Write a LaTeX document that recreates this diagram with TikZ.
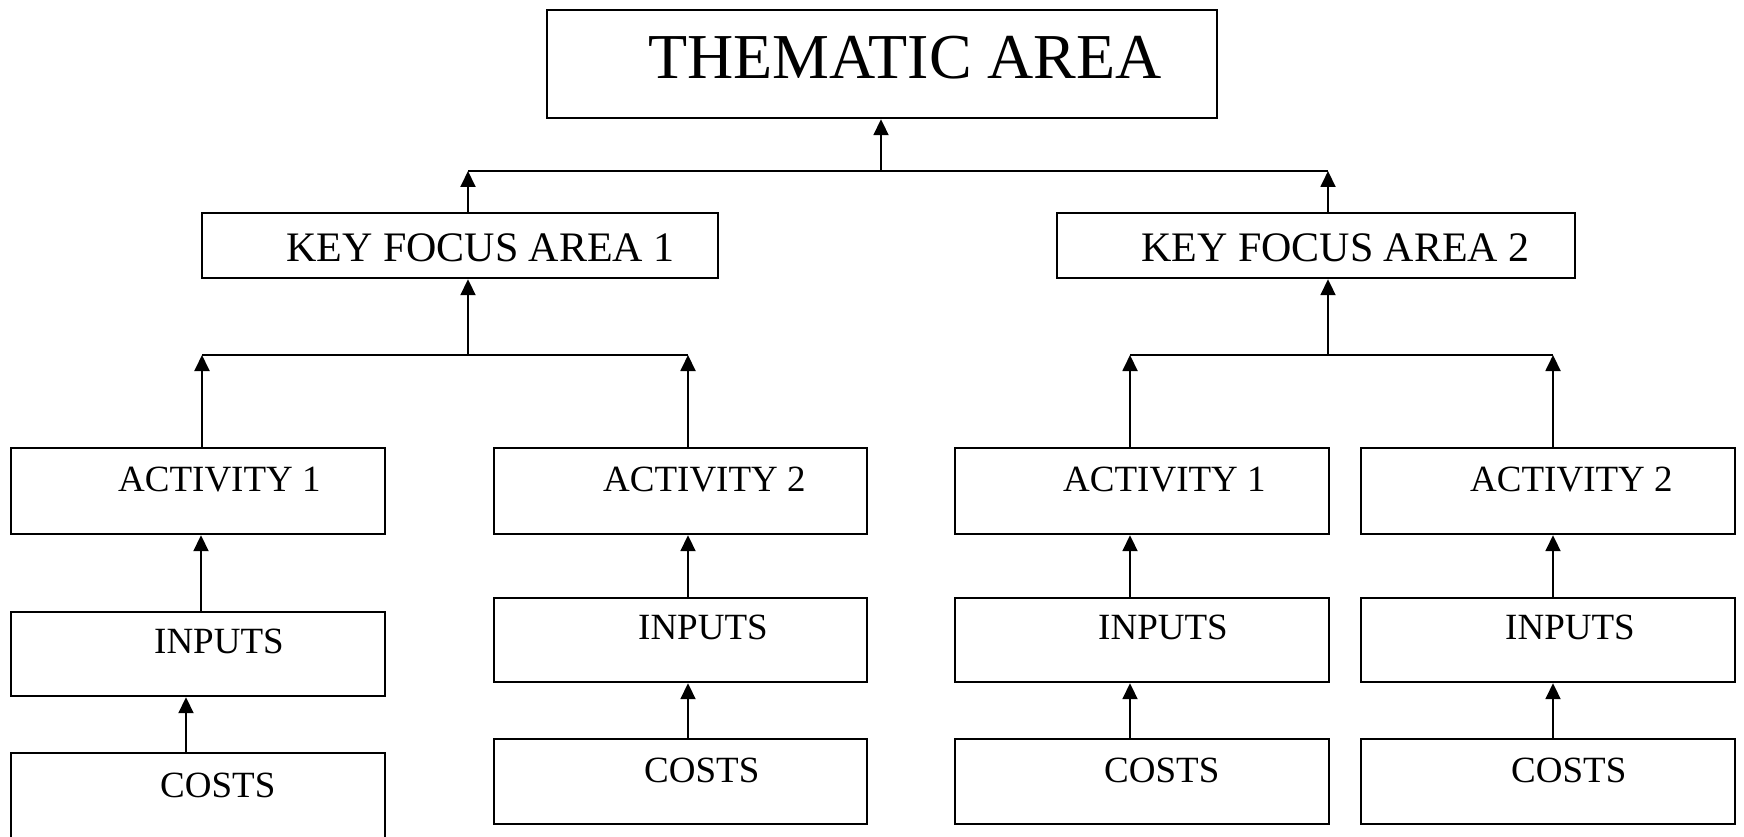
\documentclass[tikz,border=0pt]{standalone}
\usepackage{fontspec}
\setmainfont{Liberation Serif}
\usetikzlibrary{arrows.meta}
\begin{document}
\begin{tikzpicture}[x=1pt,y=-1pt,
  box/.style={draw, line width=2.2pt, rectangle, inner sep=0pt, anchor=north west},
  lbl/.style={anchor=base west, inner sep=0pt},
  conn/.style={line width=1.9pt},
  arr/.style={line width=1.9pt, -{Triangle[length=16pt,width=15pt]}},
  fta/.style={font=\fontsize{64}{70}\selectfont},
  fkfa/.style={font=\fontsize{42}{46}\selectfont},
  fact/.style={font=\fontsize{37}{41}\selectfont}]
\useasboundingbox (0,0) rectangle (1744,837);
\clip (0,0) rectangle (1744,837);
% boxes
\node[box, minimum width=670pt, minimum height=108pt] (ta) at (546,9) {};
\node[box, minimum width=516pt, minimum height=65pt] (kfa1) at (201,212) {};
\node[box, minimum width=518pt, minimum height=65pt] (kfa2) at (1056,212) {};
\node[box, minimum width=374pt, minimum height=86pt] (act1) at (10,447) {};
\node[box, minimum width=373pt, minimum height=86pt] (act2) at (493,447) {};
\node[box, minimum width=374pt, minimum height=86pt] (act3) at (954,447) {};
\node[box, minimum width=374pt, minimum height=86pt] (act4) at (1360,447) {};
\node[box, minimum width=374pt, minimum height=84pt] (in1) at (10,611) {};
\node[box, minimum width=373pt, minimum height=84pt] (in2) at (493,597) {};
\node[box, minimum width=374pt, minimum height=84pt] (in3) at (954,597) {};
\node[box, minimum width=374pt, minimum height=84pt] (in4) at (1360,597) {};
\node[box, minimum width=374pt, minimum height=120pt] (co1) at (10,752) {};
\node[box, minimum width=373pt, minimum height=85pt] (co2) at (493,738) {};
\node[box, minimum width=374pt, minimum height=85pt] (co3) at (954,738) {};
\node[box, minimum width=374pt, minimum height=85pt] (co4) at (1360,738) {};
% labels
\node[lbl, fta] (tat) at (648,79) {THEMATIC AREA};
\node[lbl, fkfa] (kfa1t) at (286,261) {KEY FOCUS AREA 1};
\node[lbl, fkfa] (kfa2t) at (1141,261) {KEY FOCUS AREA 2};
\node[lbl, fact] (act1t) at (118,491) {ACTIVITY 1};
\node[lbl, fact] (act2t) at (603,491) {ACTIVITY 2};
\node[lbl, fact] (act3t) at (1063,491) {ACTIVITY 1};
\node[lbl, fact] (act4t) at (1470,491) {ACTIVITY 2};
\node[lbl, fact] (in1t) at (154,653) {INPUTS};
\node[lbl, fact] (in2t) at (638,639) {INPUTS};
\node[lbl, fact] (in3t) at (1098,639) {INPUTS};
\node[lbl, fact] (in4t) at (1505,639) {INPUTS};
\node[lbl, fact] (co1t) at (160,797) {COSTS};
\node[lbl, fact] (co2t) at (644,782) {COSTS};
\node[lbl, fact] (co3t) at (1104,782) {COSTS};
\node[lbl, fact] (co4t) at (1511,782) {COSTS};
% top bar
\coordinate (tb1) at (468,171);
\coordinate (tbc) at (881,171);
\coordinate (tb2) at (1328,171);
\draw[conn] (tb1) -- (tb2);
\draw[arr] (tbc) -- (tbc |- ta.south);
\draw[arr] (tb1 |- kfa1.north) -- (tb1);
\draw[arr] (tb2 |- kfa2.north) -- (tb2);
% lower left bar
\coordinate (lb1) at (202,355);
\coordinate (lbc) at (468,355);
\coordinate (lb2) at (688,355);
\draw[conn] (lb1) -- (lb2);
\draw[arr] (lbc) -- (lbc |- kfa1.south);
\draw[arr] (lb1 |- act1.north) -- (lb1);
\draw[arr] (lb2 |- act2.north) -- (lb2);
% lower right bar
\coordinate (rb1) at (1130,355);
\coordinate (rbc) at (1328,355);
\coordinate (rb2) at (1553,355);
\draw[conn] (rb1) -- (rb2);
\draw[arr] (rbc) -- (rbc |- kfa2.south);
\draw[arr] (rb1 |- act3.north) -- (rb1);
\draw[arr] (rb2 |- act4.north) -- (rb2);
% inputs to activities
\coordinate (c1) at (201,0);
\coordinate (c1b) at (186,0);
\coordinate (c2) at (688,0);
\coordinate (c3) at (1130,0);
\coordinate (c4) at (1553,0);
\draw[arr] (c1 |- in1.north) -- (c1 |- act1.south);
\draw[arr] (c2 |- in2.north) -- (c2 |- act2.south);
\draw[arr] (c3 |- in3.north) -- (c3 |- act3.south);
\draw[arr] (c4 |- in4.north) -- (c4 |- act4.south);
% costs to inputs
\draw[arr] (c1b |- co1.north) -- (c1b |- in1.south);
\draw[arr] (c2 |- co2.north) -- (c2 |- in2.south);
\draw[arr] (c3 |- co3.north) -- (c3 |- in3.south);
\draw[arr] (c4 |- co4.north) -- (c4 |- in4.south);
\end{tikzpicture}
\end{document}
